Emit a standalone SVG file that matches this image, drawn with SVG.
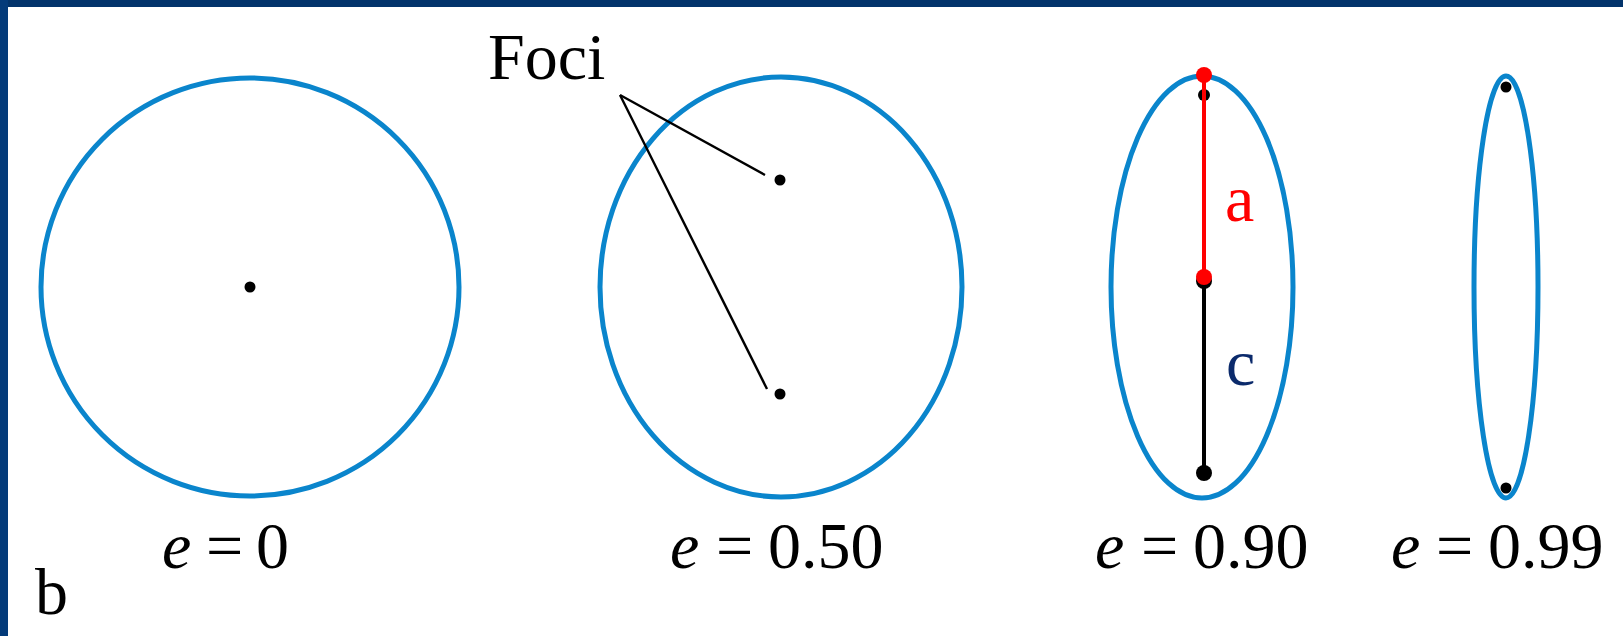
<svg xmlns="http://www.w3.org/2000/svg" width="1623" height="636" viewBox="0 0 1623 636">
<style>
.orbit{fill:none;stroke:#0a85cc;stroke-width:5}
.dot{fill:#000}
.lbl{font-family:"Liberation Serif","Times New Roman",serif;font-size:66px;fill:#000}
.it{font-style:italic}
.lead{stroke:#000;stroke-width:2.4;fill:none}
</style>
<rect x="0" y="0" width="1623" height="636" fill="#fff"/>
<rect x="0" y="0" width="1623" height="7" fill="#03346b"/>
<rect x="0" y="0" width="8" height="636" fill="#043b7a"/>

<g id="circle-e0">
<circle class="orbit" cx="250" cy="287" r="209"/>
<circle class="dot" cx="250" cy="287" r="5.5"/>
<text class="lbl" x="162" y="568"><tspan class="it">e</tspan><tspan x="206">=</tspan><tspan x="256">0</tspan></text>
</g>

<g id="ellipse-e050">
<ellipse class="orbit" cx="781" cy="287" rx="181" ry="210"/>
<circle class="dot" cx="780" cy="180" r="5.5"/>
<circle class="dot" cx="780" cy="394" r="5.5"/>
<text class="lbl" x="670" y="568"><tspan class="it">e</tspan><tspan x="716">=</tspan><tspan x="768">0.50</tspan></text>
</g>

<g id="foci-label">
<text class="lbl" x="488" y="79" font-size="64">Foci</text>
</g>

<g id="ellipse-e090">
<ellipse class="orbit" cx="1202" cy="287" rx="91" ry="211"/>
<circle class="dot" cx="1204" cy="95" r="6"/>
<circle class="dot" cx="1204" cy="281" r="8"/>
<circle class="dot" cx="1204" cy="473" r="8"/>
<text class="lbl" x="1095" y="568"><tspan class="it">e</tspan><tspan x="1141">=</tspan><tspan x="1193">0.90</tspan></text>
</g>

<g id="ellipse-e099">
<ellipse class="orbit" cx="1506" cy="287" rx="32" ry="211"/>
<circle class="dot" cx="1506" cy="87" r="5.5"/>
<circle class="dot" cx="1506" cy="488" r="5.5"/>
<text class="lbl" x="1391" y="568"><tspan class="it">e</tspan><tspan x="1436">=</tspan><tspan x="1488">0.99</tspan></text>
</g>

<g id="connectors">
<line class="lead" x1="620" y1="95" x2="765" y2="175"/>
<line class="lead" x1="620" y1="95" x2="767" y2="389"/>
<line x1="1204" y1="281" x2="1204" y2="473" stroke="#000" stroke-width="4"/>
<line x1="1204" y1="75" x2="1204" y2="277" stroke="#ff0000" stroke-width="4"/>
<circle cx="1204" cy="75" r="8" fill="#ff0000"/>
<circle cx="1204" cy="277" r="8" fill="#ff0000"/>
</g>

<g id="axis-labels">
<text x="1225" y="221" font-family="Liberation Serif, serif" font-size="66" fill="#ff0000">a</text>
<text x="1226" y="385" font-family="Liberation Serif, serif" font-size="66" fill="#0b2a6b">c</text>
</g>

<g id="panel-label">
<text class="lbl" x="35" y="614" font-size="68">b</text>
</g>
</svg>
